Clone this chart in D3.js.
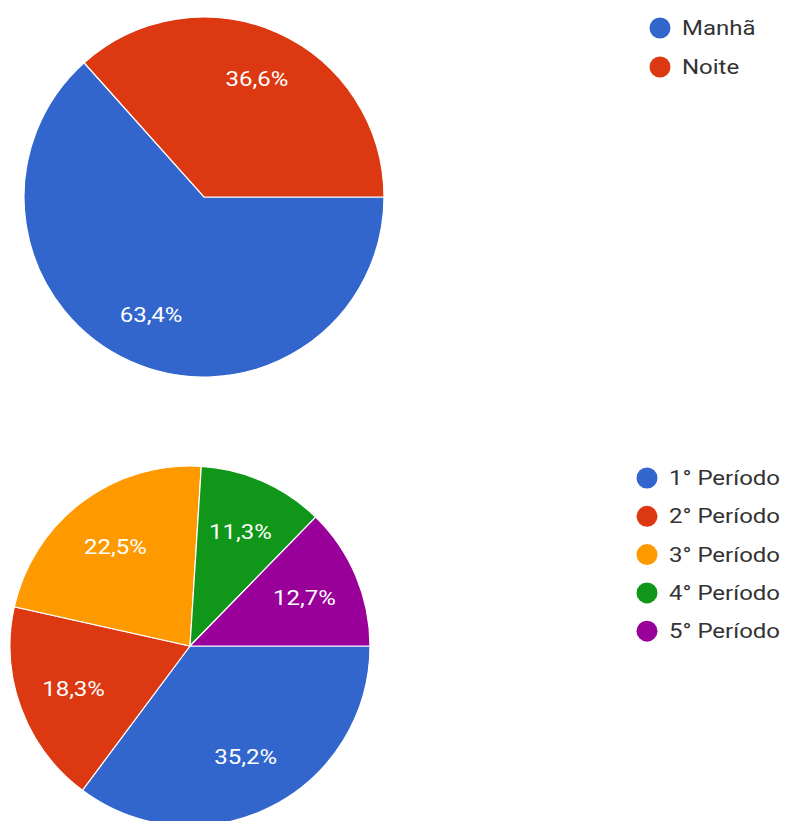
<!DOCTYPE html>
<html>
<head>
<meta charset="utf-8">
<script src="https://cdn.jsdelivr.net/npm/d3@7"></script>
<style>
  body { margin: 0; background: #fff; }
  svg text { font-family: Roboto, Arial, sans-serif; }
</style>
</head>
<body>
<div id="chart"></div>
<script>
var colors = ["#3366cc", "#dc3912", "#ff9900", "#109618", "#990099"];

var turnoLabels = ["Manhã", "Noite"];
var turnoValues = [63.4, 36.6];

var periodoLabels = ["1° Período", "2° Período", "3° Período", "4° Período", "5° Período"];
var periodoValues = [35.2, 18.3, 22.5, 11.3, 12.7];

var W = 787, H = 821;
var textScale = 1.2;

var svg = d3.select("#chart").append("svg")
    .attr("width", W)
    .attr("height", H)
    .attr("viewBox", "0 0 " + W + " " + H);

function fmt(v) {
    return v.toFixed(1).replace(".", ",") + "%";
}

function drawPie(labels, values, opts) {
    var data = labels.map(function (l, i) {
        return {label: l, value: values[i], color: colors[i]};
    });

    var pie = d3.pie()
        .sort(null)
        .value(function (d) { return d.value; })
        .startAngle(Math.PI / 2)
        .endAngle(Math.PI / 2 + 2 * Math.PI);

    var arc = d3.arc().innerRadius(0).outerRadius(opts.r);
    var lr = opts.r * opts.labelRatio;
    var labelArc = d3.arc().innerRadius(lr).outerRadius(lr);

    var g = svg.append("g")
        .attr("transform", "translate(" + opts.cx + "," + opts.cy + ")");

    var slices = g.selectAll("g.slice")
        .data(pie(data))
        .enter().append("g")
        .attr("class", "slice");

    slices.append("path")
        .attr("d", arc)
        .attr("fill", function (d) { return d.data.color; })
        .style("stroke", "#fff")
        .style("stroke-width", "1.2px");

    slices.append("text")
        .attr("transform", function (d) {
            var c = labelArc.centroid(d);
            return "translate(" + c[0] + "," + c[1] + ") scale(" + textScale + ",1)";
        })
        .attr("dy", "0.35em")
        .attr("text-anchor", "middle")
        .attr("fill", "#fff")
        .style("font-size", "20px")
        .text(function (d) { return fmt(d.data.value); });

    // legenda
    var leg = svg.append("g")
        .attr("transform", "translate(" + opts.legX + "," + opts.legY + ")");

    var items = leg.selectAll("g")
        .data(data)
        .enter().append("g")
        .attr("transform", function (d, i) {
            return "translate(0," + i * opts.legStep + ")";
        });

    items.append("circle")
        .attr("r", 10.5)
        .attr("fill", function (d) { return d.color; });

    items.append("text")
        .attr("transform", "translate(22,0) scale(" + textScale + ",1)")
        .attr("dy", "0.35em")
        .attr("fill", "#333")
        .style("font-size", "20px")
        .text(function (d) { return d.label; });
}

drawPie(turnoLabels, turnoValues, {cx: 204, cy: 197, r: 180, labelRatio: 0.72, legX: 660, legY: 28, legStep: 39});
drawPie(periodoLabels, periodoValues, {cx: 190, cy: 646, r: 180, labelRatio: 0.69, legX: 647, legY: 478, legStep: 38.3});
</script>
</body>
</html>
